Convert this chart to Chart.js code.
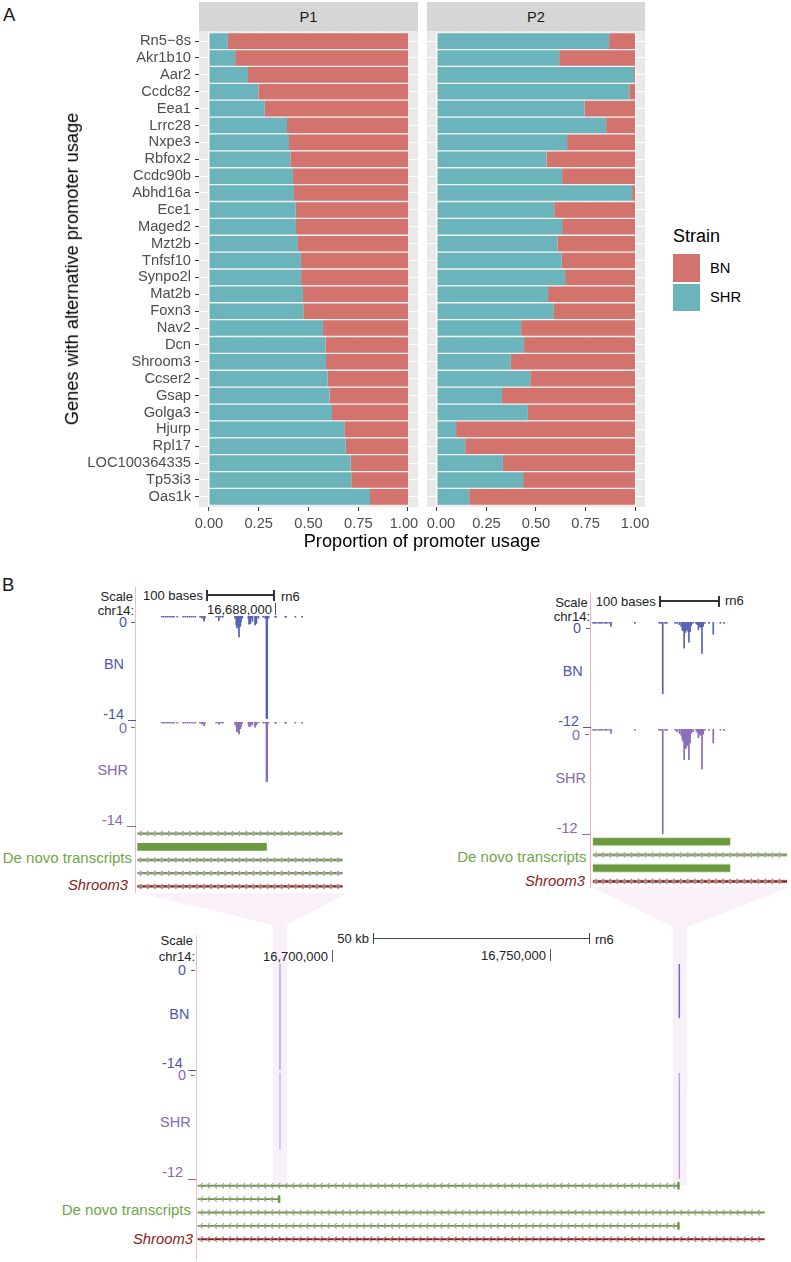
<!DOCTYPE html>
<html>
<head>
<meta charset="utf-8">
<script src="https://cdn.jsdelivr.net/npm/chart.js@4"></script>
<style>
  html, body { margin: 0; padding: 0; background: #fff; }
  #page { position: relative; width: 791px; height: 1262px; overflow: hidden; font-family: "Liberation Sans", Arial, sans-serif; }
  #page canvas { position: absolute; }
  #page div { position: absolute; white-space: nowrap; line-height: 1; }
  #page svg { position: absolute; left: 0; top: 0; }
</style>
</head>
<body>
<div id="page">
  <svg width="791" height="1262">
    <polygon fill="#FAF0F9" points="140,893 347,893 287,925 287,1185 273,1185 273,925"></polygon>
    <polygon fill="#FAF0F9" points="592,887 790,887 687,927 687,1185 673,1185 673,927"></polygon>
  </svg>
</div>
<script>
// Panel A: proportion of promoter usage
var genes = ['Rn5\u22128s', 'Akr1b10', 'Aar2', 'Ccdc82', 'Eea1', 'Lrrc28', 'Nxpe3', 'Rbfox2', 'Ccdc90b', 'Abhd16a',
  'Ece1', 'Maged2', 'Mzt2b', 'Tnfsf10', 'Synpo2l', 'Mat2b', 'Foxn3', 'Nav2', 'Dcn', 'Shroom3',
  'Ccser2', 'Gsap', 'Golga3', 'Hjurp', 'Rpl17', 'LOC100364335', 'Tp53i3', 'Oas1k'];
var shrP1 = [.095, .132, .196, .248, .280, .392, .402, .409, .422, .427,
  .436, .437, .447, .462, .463, .472, .474, .573, .585, .588,
  .596, .606, .618, .680, .687, .712, .715, .809];
var bnP1 = [.905, .868, .804, .752, .720, .608, .598, .591, .578, .573,
  .564, .563, .553, .538, .537, .528, .526, .427, .415, .412,
  .404, .394, .382, .320, .313, .288, .285, .191];
var shrP2 = [.869, .617, .995, .971, .745, .854, .657, .553, .632, .985,
  .592, .632, .608, .630, .647, .561, .590, .425, .439, .373,
  .471, .328, .459, .097, .143, .333, .435, .163];
var bnP2 = [.131, .383, .005, .029, .255, .146, .343, .447, .368, .015,
  .408, .368, .392, .370, .353, .439, .410, .575, .561, .627,
  .529, .672, .541, .903, .857, .667, .565, .837];
var proportionTicks = [0, .125, .25, .375, .5, .625, .75, .875, 1];

// Panel B: signal tracks, positions are bases from the left of the view
var positions1 = [37, 40, 43, 46, 49, 52, 55, 60, 69, 72,
  75, 78, 81, 84, 87, 94, 97, 100, 101, 118,
  121, 122, 125, 128, 146, 148, 149, 151, 152, 154,
  155, 157, 166, 167, 169, 170, 172, 176, 178, 181,
  188, 191, 193, 194, 196, 206, 207, 221, 222, 236, 246];
var bn1 = [-.15, -.15, -.15, -.15, -.15, -.15, -.15, -.15, -.15, -.15,
  -.15, -.15, -.15, -.15, -.15, -.15, -.3, -.7, -.3, -.15,
  -.15, -.6, -.15, -.15, -.3, -1.2, -1.6, -1.4, -2.8, -1.4,
  -.8, -.3, -.3, -1.1, -1, -.3, -.7, -1.2, -1, -.3,
  -.15, -.3, -13.8, -13.8, -.3, -.15, -.15, -.15, -.15, -.15, -.15];
var shr1 = [-.15, -.15, -.15, -.15, -.15, -.15, -.15, -.15, -.15, -.15,
  -.15, -.15, -.15, -.15, -.15, -.15, -.3, -.5, -.15, -.15,
  -.15, -.3, -.15, -.15, -.3, -.6, -1.3, -1.2, -1.6, -.9,
  -.6, -.15, -.15, -.6, -.6, -.15, -.4, -.7, -.4, -.15,
  -.15, -.15, -8, -8, -.15, -.15, -.15, -.15, -.15, -.15, -.15];
var positions2 = [2, 5, 8, 12, 15, 18, 22, 25, 29, 32,
  72, 113, 116, 119, 123, 126, 140, 143, 147, 150,
  152, 153, 155, 157, 158, 160, 162, 163, 165, 167,
  170, 175, 177, 179, 180, 182, 184, 185, 187, 190,
  197, 204, 216, 222];
var bn2 = [-.15, -.15, -.15, -.15, -.15, -.15, -.15, -.15, -.15, -.5,
  -.15, -.15, -.15, -8.2, -.15, -.15, -.15, -.15, -.3, -.5,
  -.9, -1, -3, -1.2, -1, -.9, -1.1, -2.3, -1.1, -.4,
  -.15, -.15, -.3, -.9, -.5, -.6, -.6, -3.6, -.5, -.15,
  -.15, -1.4, -.15, -.15];
var shr2 = [-.15, -.15, -.15, -.15, -.15, -.15, -.15, -.15, -.15, -.5,
  -.15, -.15, -.15, -12, -.15, -.15, -.15, -.3, -.5, -.7,
  -1.2, -1.4, -3.5, -2.2, -2.2, -1.8, -2, -3.5, -1.6, -.5,
  -.3, -.15, -.4, -1, -.6, -.7, -.7, -4.6, -.6, -.15,
  -.15, -1.6, -.15, -.15];
// wide view, positions are chr14 coordinates
var positions3 = [16688071, 16779670];
var bn3 = [-14, -7.1];
var shr3 = [-8.6, -12];

// transcripts, one entry per row, [start, end]
var introns1 = [[1, 306], null, [1, 306], [1, 306], [1, 306]];
var exons1 = [null, [1, 193], null, null, null];
var introns2 = [null, [2, 328], null, [2, 328]];
var exons2 = [[2, 232], null, [2, 232], null];
var introns3 = [[16669260, 16779670], [16669260, 16688071], [16669260, 16799170], [16669260, 16779670], [16669260, 16799170]];
var exons3 = [[16779270, 16779670], [16687670, 16688071], null, [16779270, 16779670], null];

var RED = '#D2736D', TEAL = '#6BB4BB', BLUE = '#4C57A8', PURPLE = '#8468B0', GREEN = '#6A9A3F', DARKRED = '#8B1A1A';
var page = document.getElementById('page');

function makeCanvas(left, top, width, height) {
  var c = document.createElement('canvas');
  c.width = width;
  c.height = height;
  c.style.left = left + 'px';
  c.style.top = top + 'px';
  c.style.width = width + 'px';
  c.style.height = height + 'px';
  page.appendChild(c);
  return c;
}

// align: 'l' starts at x, 'r' ends at x, 'c' is centred on x; y is the text's middle
function label(text, x, y, size, color, align, extra) {
  var d = document.createElement('div');
  d.textContent = text;
  d.style.left = x + 'px';
  d.style.top = y + 'px';
  d.style.fontSize = size + 'px';
  d.style.color = color;
  var tx = align === 'r' ? '-100%' : (align === 'c' ? '-50%' : '0');
  d.style.transform = 'translate(' + tx + ',-50%)' + (extra || '');
  if (extra === 'italic') {
    d.style.fontStyle = 'italic';
    d.style.transform = 'translate(' + tx + ',-50%)';
  }
  page.appendChild(d);
}

function box(x, y, w, h, color) {
  var d = document.createElement('div');
  d.style.left = x + 'px';
  d.style.top = y + 'px';
  d.style.width = w + 'px';
  d.style.height = h + 'px';
  d.style.background = color;
  page.appendChild(d);
}

var panelBg = {
  id: 'panelBg',
  beforeDraw: function(chart) {
    var a = chart.chartArea;
    chart.ctx.fillStyle = '#E9E9E9';
    chart.ctx.fillRect(a.left, a.top, a.right - a.left, a.bottom - a.top);
  }
};

function toPoints(values) {
  return values.map(function(v, i) { return { x: v, y: i }; });
}

function facetChart(canvas, shr, bn, leftWidth, pad, showGenes) {
  new Chart(canvas, {
    type: 'bar',
    data: {
      datasets: [
        { label: 'SHR', data: toPoints(shr), backgroundColor: TEAL, borderColor: '#F4F4F4', borderSkipped: false, borderWidth: { top: 1, bottom: 1, left: 0, right: 0 }, barThickness: 16.9 },
        { label: 'BN', data: toPoints(bn), backgroundColor: RED, borderColor: '#F4F4F4', borderSkipped: false, borderWidth: { top: 1, bottom: 1, left: 0, right: 0 }, barThickness: 16.9 }
      ]
    },
    options: {
      indexAxis: 'y',
      responsive: false,
      animation: false,
      layout: { padding: { left: pad.left, right: pad.right, top: 0, bottom: 0 } },
      plugins: { legend: { display: false }, tooltip: { enabled: false } },
      scales: {
        x: {
          type: 'linear',
          stacked: true,
          min: -0.05,
          max: 1.05,
          afterBuildTicks: function(s) { s.ticks = proportionTicks.map(function(v) { return { value: v }; }); },
          afterFit: function(s) { s.height = 30; s.paddingLeft = 0; s.paddingRight = 0; },
          border: { display: false },
          grid: {
            color: '#FFFFFF',
            lineWidth: function(ctx) { return ctx.tick && ctx.tick.value % .25 === 0 ? 1.1 : .5; },
            tickColor: function(ctx) { return ctx.tick && ctx.tick.value % .25 === 0 ? '#333333' : 'rgba(0,0,0,0)'; },
            tickLength: 4,
            tickWidth: 1
          },
          ticks: {
            autoSkip: false,
            maxRotation: 0,
            padding: 4,
            color: '#4D4D4D',
            font: { family: 'Liberation Sans', size: 14.7 },
            // the two labels where the facets meet are nudged apart, as in the figure
            callback: function(v) {
              if (v % .25 !== 0) return '';
              if (showGenes && v === 1) return '1.00  ';
              if (!showGenes && v === 0) return '  0.00';
              return v.toFixed(2);
            }
          }
        },
        y: {
          type: 'linear',
          stacked: true,
          reverse: true,
          offset: false,
          min: -0.6,
          max: 27.6,
          afterBuildTicks: function(s) { s.ticks = genes.map(function(g, i) { return { value: i }; }); },
          afterFit: function(s) { s.width = leftWidth; s.paddingTop = 0; s.paddingBottom = 0; },
          border: { display: false },
          grid: { offset: false, color: '#FFFFFF', lineWidth: 1.1, drawTicks: showGenes, tickColor: '#333333', tickLength: 4, tickWidth: 1 },
          ticks: {
            display: showGenes,
            autoSkip: false,
            padding: 4,
            color: '#4D4D4D',
            font: { family: 'Liberation Sans', size: 14.7 },
            callback: function(v) { return genes[v]; }
          }
        }
      }
    },
    plugins: [panelBg]
  });
}

function signalChart(left, top, width, height, xMin, xMax, yMin, positions, values, color, thickness) {
  new Chart(makeCanvas(left, top, width, height), {
    type: 'bar',
    data: {
      datasets: [{
        data: positions.map(function(p, i) { return { x: p, y: values[i] }; }),
        backgroundColor: color,
        barThickness: thickness
      }]
    },
    options: {
      responsive: false,
      animation: false,
      plugins: { legend: { display: false }, tooltip: { enabled: false } },
      scales: {
        x: { type: 'linear', display: false, offset: false, min: xMin, max: xMax },
        y: { type: 'linear', display: false, min: yMin, max: 0 }
      }
    }
  });
}

// little strand arrows along the intron bars
var chevrons = {
  id: 'chevrons',
  afterDatasetsDraw: function(chart) {
    var ctx = chart.ctx;
    var ds = chart.data.datasets[0];
    chart.getDatasetMeta(0).data.forEach(function(bar, i) {
      if (!ds.data[i]) return;
      var start = Math.min(bar.x, bar.base), end = Math.max(bar.x, bar.base);
      ctx.save();
      ctx.strokeStyle = ds.arrowColors[i];
      ctx.fillStyle = ds.arrowColors[i];
      ctx.lineWidth = 1.1;
      for (var x = start + 3; x < end - 2; x += 7.05) {
        ctx.beginPath();
        if (ds.arrow === '>') {
          ctx.moveTo(x - 2.4, bar.y);
          ctx.lineTo(x, bar.y - 3);
          ctx.lineTo(x + 2.4, bar.y);
          ctx.lineTo(x, bar.y + 3);
          ctx.closePath();
          ctx.fill();
        } else {
          ctx.moveTo(x + 1.8, bar.y - 2.8);
          ctx.lineTo(x - 1, bar.y);
          ctx.lineTo(x + 1.8, bar.y + 2.8);
          ctx.stroke();
        }
      }
      ctx.restore();
    });
  }
};

function transcriptChart(left, top, width, height, xMin, xMax, introns, exons, arrow) {
  var rows = introns.map(function(r, i) { return 'row' + i; });
  var last = introns.length - 1;
  new Chart(makeCanvas(left, top, width, height), {
    type: 'bar',
    data: {
      labels: rows,
      datasets: [
        {
          data: introns,
          arrow: arrow,
          arrowColors: rows.map(function(r, i) { return i === last ? '#B07C7C' : '#A3A3A3'; }),
          backgroundColor: rows.map(function(r, i) { return i === last ? DARKRED : GREEN; }),
          barThickness: arrow === '>' ? 1.6 : 1.2,
          grouped: false
        },
        { data: exons, backgroundColor: GREEN, barThickness: 7, grouped: false }
      ]
    },
    options: {
      indexAxis: 'y',
      responsive: false,
      animation: false,
      plugins: { legend: { display: false }, tooltip: { enabled: false } },
      scales: {
        x: { type: 'linear', display: false, min: xMin, max: xMax },
        y: { type: 'category', display: false }
      }
    },
    plugins: [chevrons]
  });
}

// ---- panel A
label('A', 3, 15, 18.5, '#1A1A1A', 'l');
box(199, 2, 219, 29, '#D6D6D6');
box(427, 2, 218, 29, '#D6D6D6');
label('P1', 308.5, 16.5, 14.7, '#1A1A1A', 'c');
label('P2', 536, 16.5, 14.7, '#1A1A1A', 'c');
facetChart(makeCanvas(0, 31, 434, 506), shrP1, bnP1, 199, { left: 0, right: 16 }, true);
facetChart(makeCanvas(410, 31, 252, 506), shrP2, bnP2, 0, { left: 17, right: 17 }, false);
label('Genes with alternative promoter usage', 72, 269, 18.2, '#000', 'c', ' rotate(-90deg)');
label('Proportion of promoter usage', 422, 541, 18.2, '#000', 'c');
label('Strain', 673, 236, 18, '#000', 'l');
box(673, 254, 27, 28, RED);
box(673, 283.5, 27, 27, TEAL);
label('BN', 710, 268, 14.7, '#000', 'l');
label('SHR', 710, 297, 14.7, '#000', 'l');

// ---- panel B
label('B', 2, 585, 18.5, '#1A1A1A', 'l');

// left zoomed view
box(135, 587, 1, 306, '#F4BDBD');
label('Scale', 133, 596, 13, '#222', 'r');
label('chr14:', 134, 610, 13, '#222', 'r');
label('100 bases', 203, 595, 13, '#222', 'r');
box(206, 594, 68, 2, '#333');
box(206, 590, 2, 11, '#333');
box(273, 590, 2, 11, '#333');
label('rn6', 281, 595.5, 13, '#222', 'l');
label('16,688,000', 272, 609, 13, '#222', 'r');
box(275, 603, 1, 12, '#555');
signalChart(137, 616, 206, 104, 0, 307, -14, positions1, bn1, '#5560B5', 1.1);
signalChart(137, 722, 206, 104, 0, 307, -14, positions1, shr1, '#8A6BB8', 1.1);
label('0', 127, 622, 14.4, BLUE, 'r');
box(131, 622, 4, 1, BLUE);
label('BN', 124, 664, 14.4, BLUE, 'r');
label('-14', 124, 714, 14.4, BLUE, 'r');
box(128, 720, 8, 1, BLUE);
label('0', 127, 728, 14.4, PURPLE, 'r');
box(131, 727, 4, 1, PURPLE);
label('SHR', 128, 770, 14.5, PURPLE, 'r');
label('-14', 122.7, 820, 14.4, PURPLE, 'r');
box(127, 826, 9, 1, PURPLE);
transcriptChart(137, 826.5, 206, 66, 0, 307, introns1, exons1, '>');
label('De novo transcripts', 132, 857, 15, '#6FA546', 'r');
label('Shroom3', 128, 885, 14.8, DARKRED, 'r', 'italic');

// right zoomed view
box(590, 593, 1, 295, '#F4AFC0');
label('Scale', 587.7, 602, 13, '#222', 'r');
label('chr14:', 590, 616, 13, '#222', 'r');
label('100 bases', 655.7, 601, 13, '#222', 'r');
box(659, 600, 60, 2, '#333');
box(659, 596, 2, 11, '#333');
box(718, 596, 2, 11, '#333');
label('rn6', 725, 600, 13, '#222', 'l');
signalChart(592, 622, 195, 105, 0, 328, -12, positions2, bn2, '#5560B5', 1);
signalChart(592, 729, 195, 105, 0, 328, -12, positions2, shr2, '#8A6BB8', 1);
label('0', 581, 628, 14.4, BLUE, 'r');
box(586, 628, 4, 1, BLUE);
label('BN', 582.7, 671, 14.4, BLUE, 'r');
label('-12', 579, 721, 14.4, BLUE, 'r');
box(583, 727, 8, 1, BLUE);
label('0', 580, 735, 14.4, PURPLE, 'r');
box(585, 734, 4, 1, PURPLE);
label('SHR', 586, 778, 14.5, PURPLE, 'r');
label('-12', 577.5, 828, 14.4, PURPLE, 'r');
box(582, 834, 8, 1, PURPLE);
transcriptChart(592, 835.2, 195, 52.4, 0, 328, introns2, exons2, '>');
label('De novo transcripts', 586.5, 856, 15, '#6FA546', 'r');
label('Shroom3', 585, 881, 14.8, DARKRED, 'r', 'italic');

// wide view
box(196, 935, 1, 325, '#F4BDBD');
label('Scale', 193, 940, 13, '#222', 'r');
label('chr14:', 195, 956, 13, '#222', 'r');
label('50 kb', 369, 938, 13, '#222', 'r');
box(372.5, 938, 217, 1, '#444');
box(372.5, 933, 1, 11, '#444');
box(589, 933, 1, 11, '#444');
label('rn6', 595, 938.5, 13, '#222', 'l');
label('16,700,000', 328, 956, 13, '#222', 'r');
box(332, 950, 1, 12, '#555');
label('16,750,000', 546, 955, 13, '#222', 'r');
box(550, 949, 1, 12, '#555');
signalChart(197, 964, 573, 106, 16669037, 16800468, -14, positions3, bn3, ['#A9A8DC', '#6A6CC0'], .8);
signalChart(197, 1073, 573, 106, 16669037, 16800468, -12, positions3, shr3, ['#CDB5DD', '#BFA3DC'], .8);
label('0', 186, 970, 14.4, BLUE, 'r');
box(191, 970, 4, 1, BLUE);
label('BN', 189.3, 1014, 14.4, BLUE, 'r');
label('-14', 182.7, 1063, 14.4, BLUE, 'r');
box(188, 1069.5, 8, 1, BLUE);
label('0', 186, 1075, 14.4, PURPLE, 'r');
box(191, 1075, 4, 1, PURPLE);
label('SHR', 190.7, 1122, 14.5, PURPLE, 'r');
label('-12', 183, 1172, 14.4, PURPLE, 'r');
box(188, 1179, 8, 1, PURPLE);
transcriptChart(197, 1179.3, 573, 67, 16669037, 16800468, introns3, exons3, '<');
label('De novo transcripts', 191, 1209, 15, '#6FA546', 'r');
label('Shroom3', 193, 1239, 14.8, DARKRED, 'r', 'italic');
</script>
</body>
</html>
